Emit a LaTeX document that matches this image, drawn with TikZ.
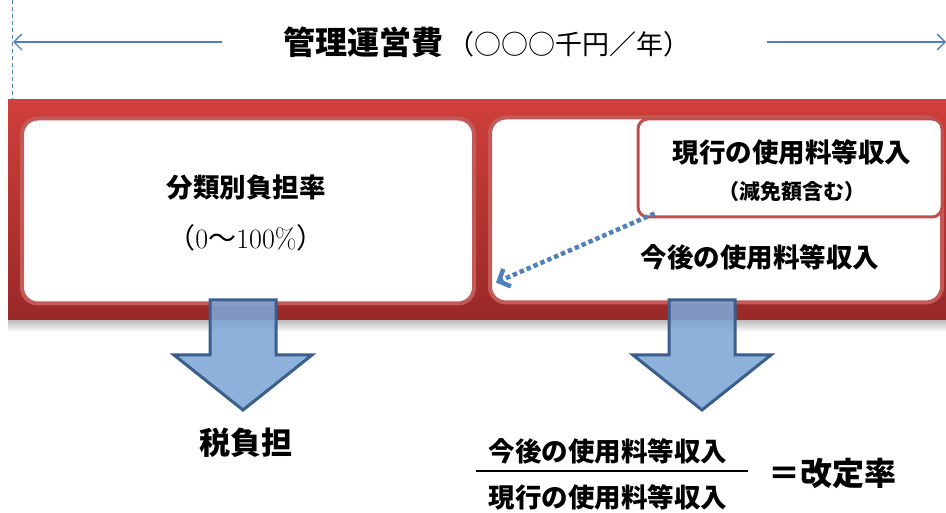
\documentclass[tikz,border=0pt]{standalone}
\usepackage{fontspec}
\newfontfamily\jp{Noto Sans CJK JP}
\usetikzlibrary{positioning, arrows.meta, calc}

\definecolor{bandtop}{HTML}{CF3F3B}
\definecolor{bandbot}{HTML}{992928}
\definecolor{ringred}{HTML}{C45A58}
\definecolor{boxred}{HTML}{C0504D}
\definecolor{linkblue}{HTML}{4F81BD}
\definecolor{arrowfill}{HTML}{7EA6D6}
\definecolor{arrowedge}{HTML}{3B5E8C}

\begin{document}
\begin{tikzpicture}[x = 1pt, y = -1pt,
    panel/.style = {
      rectangle, draw = ringred, line width = 4pt,
      fill = white, rounded corners = 16pt, inner sep = 0pt
    },
    subbox/.style = {
      rectangle, draw = boxred, line width = 3pt,
      fill = white, rounded corners = 10pt, inner sep = 0pt
    },
    jplabel/.style = {inner sep = 0pt, font = \jp\bfseries\fontsize{26.5}{30}\selectfont},
    dimarr/.style  = {-{Straight Barb[length=8pt, width=16pt]}, draw = linkblue, line width = 1.3pt},
    dotarr/.style  = {-{Straight Barb[length=9pt, width=19pt]}, draw = linkblue,
                      line width = 4.5pt, dash pattern = on 4.5pt off 3pt},
    bigarr/.style  = {fill = arrowfill, fill opacity = 0.88, draw = arrowedge,
                      line width = 3pt, line join = miter}
  ]
  \useasboundingbox (0,0) rectangle (946,513);

  % Titel mit Massstab
  \node[inner sep = 0pt] (title) at (487,42)
    {\jp{\bfseries\fontsize{32}{36}\selectfont 管理運営費}\hspace{4pt}{\fontsize{27}{30}\selectfont （○○○千円／年）}};
  \coordinate (lend)  at (13,42);
  \coordinate (lbeg)  at (222,42);
  \coordinate (rbeg)  at (767,42);
  \coordinate (rend)  at (946,42);
  \coordinate (dtop)  at (12,0);
  \coordinate (dbot)  at (12,100);
  \draw[dimarr] (lbeg) -- (lend);
  \draw[dimarr] (rbeg) -- (rend);
  \draw[linkblue, line width = 0.8pt, dash pattern = on 4pt off 3pt] (dtop) -- (dbot);

  % roter Balken
  \shade[top color = black!35, bottom color = white] (8,316) rectangle (946,332);
  \shade[top color = bandtop, bottom color = bandbot] (8,100) rectangle (946,320);

  % Felder
  \node[panel, minimum width = 452pt, minimum height = 185pt] (left)  at (248,211) {};
  \node[panel, minimum width = 452pt, minimum height = 185pt] (right) at (716,210) {};
  \node[subbox, minimum width = 304pt, minimum height = 98pt] (sub)   at (790,168) {};

  \node[jplabel] (ratio)  at (246,188) {分類別負担率};
  \node[inner sep = 0pt, font = \fontsize{28}{32}\selectfont] (range) at (246,238)
    {{\jp （}0{\jp ～}100\%{\jp ）}};
  \node[jplabel] (curr)   at (792,152) {現行の使用料等収入};
  \node[jplabel, font = \jp\bfseries\fontsize{21}{24}\selectfont] (exempt) at (792,192) {（減免額含む）};
  \node[jplabel] (future) at (760,257) {今後の使用料等収入};

  \draw[dotarr] ($(sub.south west)+(18,-5)$) -- ($(right.south west)+(8,-22)$);

  % grosse Pfeile
  \foreach \cx in {243, 702} {
    \draw[bigarr] (\cx-33,300) -- (\cx+33,300) -- (\cx+33,355) -- (\cx+69,355)
      -- (\cx,410) -- (\cx-69,355) -- (\cx-33,355) -- cycle;
  }

  % Ergebnis
  \node[jplabel, font = \jp\bfseries\fontsize{31}{34}\selectfont] (tax) at (246,443) {税負担};
  \node[jplabel] (num)  at (608,451) {今後の使用料等収入};
  \node[jplabel] (den)  at (608,497) {現行の使用料等収入};
  \node[jplabel, font = \jp\bfseries\fontsize{32}{36}\selectfont] (rate) at (832,473) {＝改定率};
  \coordinate (fl) at (476,471);
  \coordinate (fr) at (748,471);
  \draw[line width = 1.6pt] (fl) -- (fr);

\end{tikzpicture}
\end{document}
